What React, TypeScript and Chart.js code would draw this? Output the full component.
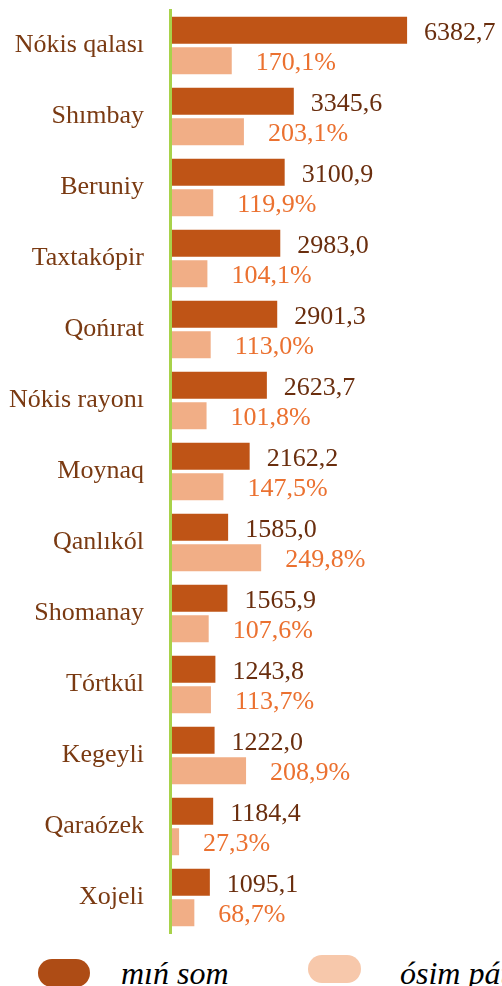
import React, { useEffect, useRef } from "react";
import { Chart, registerables } from "chart.js";

Chart.register(...registerables);

const categories = [
  "Nókis qalası",
  "Shımbay",
  "Beruniy",
  "Taxtakópir",
  "Qońırat",
  "Nókis rayonı",
  "Moynaq",
  "Qanlıkól",
  "Shomanay",
  "Tórtkúl",
  "Kegeyli",
  "Qaraózek",
  "Xojeli",
];

const volumeValues = [6382.7, 3345.6, 3100.9, 2983.0, 2901.3, 2623.7, 2162.2, 1585.0, 1565.9, 1243.8, 1222.0, 1184.4, 1095.1];
const growthValues = [170.1, 203.1, 119.9, 104.1, 113.0, 101.8, 147.5, 249.8, 107.6, 113.7, 208.9, 27.3, 68.7];

const seriesNames = ["mıń som", "ósim pátesi"];

const DARK = "#BF5416";
const LIGHT = "#F1AE86";
const LEGEND_DARK = "#AE4C15";
const LEGEND_LIGHT = "#F7C8AB";
const FONT = "'Liberation Serif', 'Times New Roman', serif";

const fmt = (v: number) => v.toFixed(1).replace(".", ",");

const valueLabels = {
  id: "valueLabels",
  afterDatasetsDraw(chart: any) {
    const ctx = chart.ctx;
    ctx.save();
    ctx.font = `26px ${FONT}`;
    ctx.textAlign = "left";
    ctx.textBaseline = "alphabetic";
    chart.data.datasets.forEach((ds: any, di: number) => {
      const meta = chart.getDatasetMeta(di);
      meta.data.forEach((bar: any, i: number) => {
        const v = ds.data[i];
        if (di === 0) {
          ctx.fillStyle = "#6A2E0E";
          ctx.fillText(fmt(v), bar.x + 16, bar.y + 9.5);
        } else {
          ctx.fillStyle = "#EB7130";
          ctx.fillText(fmt(v) + "%", bar.x + 23, bar.y + 9.5);
        }
      });
    });
    ctx.restore();
  },
};

export default function App() {
  const canvasRef = useRef<HTMLCanvasElement | null>(null);

  useEffect(() => {
    if (!canvasRef.current) return;
    const chart = new Chart(canvasRef.current, {
      type: "bar",
      data: {
        labels: categories,
        datasets: [
          {
            label: seriesNames[0],
            data: volumeValues,
            backgroundColor: DARK,
            borderColor: "rgba(255,255,255,0.6)",
            borderWidth: 1,
            xAxisID: "x",
            categoryPercentage: 0.86,
            barPercentage: 0.95,
          },
          {
            label: seriesNames[1],
            data: growthValues,
            backgroundColor: LIGHT,
            borderColor: "rgba(255,255,255,0.6)",
            borderWidth: 1,
            xAxisID: "x2",
            categoryPercentage: 0.86,
            barPercentage: 0.95,
          },
        ],
      },
      options: {
        indexAxis: "y",
        animation: false,
        responsive: false,
        maintainAspectRatio: false,
        layout: { padding: { top: 10, bottom: 7, left: 0, right: 0 } },
        plugins: {
          legend: { display: false },
          tooltip: { enabled: false },
        },
        scales: {
          x: { display: false, min: 0, max: 8900 },
          x2: { display: false, min: 0, max: 900, position: "bottom" },
          y: {
            grid: { display: false, drawTicks: false },
            border: { display: true, color: "#A8D24A", width: 3, z: 1 },
            ticks: {
              padding: 26,
              color: "#7A3A12",
              font: { family: FONT, size: 26 },
            },
            afterFit(scale: any) {
              scale.width = 170;
              scale.paddingTop = 0;
              scale.paddingBottom = 0;
            },
          },
        },
      },
      plugins: [valueLabels],
    } as any);
    return () => chart.destroy();
  }, []);

  const legendText: React.CSSProperties = {
    position: "absolute",
    fontFamily: FONT,
    fontStyle: "italic",
    fontSize: 32,
    color: "#000",
    whiteSpace: "nowrap",
    lineHeight: "32px",
  };

  return (
    <div style={{ position: "fixed", left: 0, top: 0, width: 502, height: 986, overflow: "hidden", background: "#fff" }}>
      <canvas ref={canvasRef} width={502} height={940} style={{ position: "absolute", left: 0, top: 0, width: 502, height: 940 }} />
      <div style={{ position: "absolute", left: 38, top: 959, width: 52, height: 28, borderRadius: 14, background: LEGEND_DARK }} />
      <div style={{ ...legendText, left: 121, top: 957 }}>{seriesNames[0]}</div>
      <div style={{ position: "absolute", left: 308, top: 955, width: 53, height: 28, borderRadius: 14, background: LEGEND_LIGHT }} />
      <div style={{ ...legendText, left: 400, top: 957 }}>{seriesNames[1]}</div>
    </div>
  );
}
